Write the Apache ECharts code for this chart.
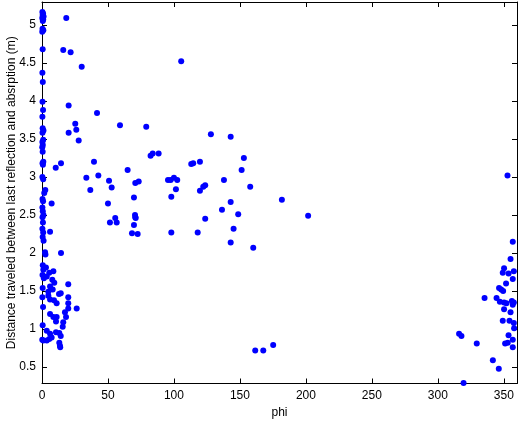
<!DOCTYPE html>
<html>
<head>
<meta charset="utf-8">
<script src="https://cdn.jsdelivr.net/npm/echarts@6/dist/echarts.min.js"></script>
<style>html,body{margin:0;padding:0;background:#fff}#c{width:522px;height:422px}</style>
</head>
<body>
<div id="c"></div>
<script>
// ---- data ----
var xTicks = [0, 50, 100, 150, 200, 250, 300, 350];
var yTicks = [0.5, 1, 1.5, 2, 2.5, 3, 3.5, 4, 4.5, 5];

// column of points at phi ~ 0
var colPhi  = [0.3,0.8,0.5,1.2,0.2,0.9,0.6,0.4,1.0,0.2,0.5,0.3,0.6,0.4,0.8,0.3,0.5,1.1,0.4,0.9,0.3,0.6,0.2,0.5,1.0,0.4,0.7,0.3,0.9,2.5,1.7,0.4,0.8,0.3,0.6,1.1,0.4,0.7,0.3,0.9,0.5,1.2,2.3,2.6,0.6,1.0,0.4,1.4,0.5,0.3,0.8,0.5,0.2,1.0];
var colDist = [5.17,5.15,5.13,5.11,5.09,5.07,5.05,4.95,4.93,4.91,4.68,4.37,4.25,3.99,3.88,3.79,3.64,3.61,3.58,3.49,3.46,3.42,3.39,3.33,3.20,3.18,3.16,3.00,2.97,2.83,2.79,2.71,2.68,2.60,2.55,2.50,2.47,2.40,2.32,2.27,2.21,2.16,2.01,1.98,1.84,1.78,1.71,1.67,1.54,1.42,1.29,1.05,0.86,0.85];

// cluster of points at small phi, low distance
var lowPhi  = [7.3,6.1,14.4,3.0,3.6,5.5,8.6,7.8,9.3,19.9,6.1,4.8,8.1,12.9,14.2,19.9,4.8,6.1,9.1,11.1,19.9,26.3,19.9,6.1,8.6,11.1,18.2,17.4,10.6,16.1,15.7,3.6,6.1,10.6,13.1,14.2,3.6,5.5,7.3,13.1,13.6,13.8];
var lowDist = [2.65,2.28,2.00,1.81,1.69,1.74,1.76,1.65,1.61,1.59,1.56,1.49,1.52,1.46,1.47,1.42,1.44,1.39,1.38,1.34,1.34,1.27,1.27,1.20,1.16,1.16,1.16,1.22,1.10,1.09,1.03,0.98,0.94,0.96,0.95,0.91,0.85,0.87,0.89,0.82,0.78,0.76];

// spread of points at middle phi
var midPhi  = [18.4,16.1,21.7,30.1,20.2,41.7,25.2,26.0,20.2,27.8,59.1,10.4,14.4,39.4,33.6,42.7,50.8,52.8,36.6,64.9,105.5,79.0,128.0,143.0,82.3,83.9,88.4,113.1,114.6,119.7,153.0,151.3,70.7,73.3,95.5,97.5,100.0,102.5,101.5,98.0,69.7,119.7,122.2,123.7,137.9,157.8,181.8,50.0,143.0,136.4,148.7,123.7,55.5,56.6,51.5,70.5,70.7,71.0,69.7,68.2,72.5,98.0,118.0,145.2,143.0,160.1,161.6,167.7,175.2,201.7];
var midDist = [5.09,4.67,4.64,4.45,3.94,3.84,3.70,3.62,3.58,3.48,3.68,3.12,3.18,3.20,2.99,3.02,2.95,2.86,2.83,3.09,4.52,3.66,3.56,3.53,3.28,3.31,3.31,3.17,3.18,3.20,3.25,3.09,2.92,2.94,2.96,2.96,2.99,2.96,2.84,2.74,2.73,2.82,2.87,2.89,2.96,2.87,2.70,2.65,2.67,2.57,2.51,2.45,2.46,2.40,2.40,2.50,2.47,2.46,2.37,2.26,2.25,2.27,2.27,2.32,2.14,2.07,0.72,0.72,0.79,2.49];

// cluster of points at phi near 360
var highPhi  = [352.8,356.8,355.1,350.2,349.2,353.6,357.6,356.8,351.7,346.4,348.0,349.5,335.4,344.5,347.0,350.2,352.0,356.1,357.6,356.8,350.2,355.1,349.2,354.3,357.6,357.8,316.1,317.9,353.6,356.8,329.5,351.0,353.0,356.8,341.7,346.2,319.5];
var highDist = [3.02,2.15,1.92,1.80,1.74,1.73,1.76,1.66,1.60,1.54,1.52,1.50,1.41,1.41,1.36,1.35,1.34,1.37,1.35,1.32,1.26,1.22,1.11,1.11,1.08,1.01,0.94,0.91,0.92,0.86,0.81,0.81,0.82,0.76,0.59,0.48,0.29];

// ---- chart ----
function pairs(xs, ys){ var out=[]; for (var i=0;i<xs.length;i++) out.push([xs[i], ys[i]]); return out; }
var points = [].concat(pairs(colPhi,colDist), pairs(lowPhi,lowDist), pairs(midPhi,midDist), pairs(highPhi,highDist));

var FONT = 'Liberation Sans, Arial, Helvetica, sans-serif';
var X_MIN = 0, X_MAX = 360, Y_MIN = 0.285, Y_MAX = 5.3;

function axisCommon(ticks, showLabels){
  return {
    axisLine: {show: true, onZero: false, lineStyle: {color: '#000', width: 1}},
    axisTick: {show: true, inside: true, length: 5, customValues: ticks, lineStyle: {color: '#000', width: 1}},
    axisLabel: {show: showLabels, customValues: ticks, color: '#000', fontFamily: FONT, fontSize: 12},
    splitLine: {show: false}
  };
}

var chart = echarts.init(document.getElementById('c'), null, {renderer: 'canvas'});
var xBottom = Object.assign({type: 'value', position: 'bottom', min: X_MIN, max: X_MAX,
  name: 'phi', nameLocation: 'middle', nameGap: 21,
  nameTextStyle: {color: '#000', fontFamily: FONT, fontSize: 12}}, axisCommon(xTicks, true));
xBottom.axisLabel.margin = 6;
var xTop = Object.assign({type: 'value', position: 'top', min: X_MIN, max: X_MAX}, axisCommon(xTicks, false));
var yLeft = Object.assign({type: 'value', position: 'left', min: Y_MIN, max: Y_MAX,
  name: 'Distance traveled between last reflection and absrption (m)', nameLocation: 'middle', nameGap: 24,
  nameMoveOverlap: false,
  nameTextStyle: {color: '#000', fontFamily: FONT, fontSize: 12}}, axisCommon(yTicks, true));
yLeft.axisLabel.margin = 6;
var yRight = Object.assign({type: 'value', position: 'right', min: Y_MIN, max: Y_MAX}, axisCommon(yTicks, false));

chart.setOption({
  animation: false,
  backgroundColor: '#fff',
  grid: {left: 42, right: 5, top: 2, bottom: 38.5, show: false, containLabel: false, outerBoundsMode: 'none'},
  xAxis: [xBottom, xTop],
  yAxis: [yLeft, yRight],
  series: [{
    type: 'scatter',
    data: points,
    symbol: 'circle',
    symbolSize: 6,
    clip: false,
    itemStyle: {color: '#0000ff', opacity: 1},
    emphasis: {disabled: true}
  }]
});
</script>
</body>
</html>
